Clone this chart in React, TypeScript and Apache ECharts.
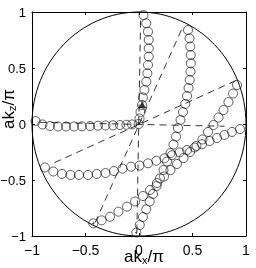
import React, { useEffect, useRef } from 'react';
import * as echarts from 'echarts';

// Axis ticks
const xTicks = [-1, -0.5, 0, 0.5, 1];
const yTicks = [-1, -0.5, 0, 0.5, 1];

// Chains of computed points (open circles)
const chainA = [
  [-0.967, 0.027], [-0.902, -0.004], [-0.832, -0.018], [-0.757, -0.022], [-0.682, -0.022],
  [-0.607, -0.022], [-0.533, -0.021], [-0.458, -0.018], [-0.383, -0.015], [-0.313, -0.013],
  [-0.243, -0.012], [-0.178, -0.009], [-0.117, -0.007], [-0.065, -0.004], [-0.003, 0.0],
];
const chainB = [
  [0.005, 0.049], [0.014, 0.107], [0.028, 0.17], [0.037, 0.237], [0.051, 0.304],
  [0.068, 0.378], [0.078, 0.453], [0.084, 0.527], [0.091, 0.601], [0.091, 0.676],
  [0.091, 0.75], [0.084, 0.824], [0.068, 0.899], [0.042, 0.973],
];
const chainC = [
  [0.458, 0.839], [0.472, 0.765], [0.479, 0.691], [0.484, 0.616], [0.484, 0.542],
  [0.481, 0.468], [0.474, 0.393], [0.463, 0.321], [0.449, 0.25], [0.433, 0.179],
  [0.411, 0.107], [0.388, 0.036], [0.364, -0.036], [0.346, -0.112], [0.322, -0.183],
  [0.294, -0.259], [0.262, -0.335], [0.229, -0.411], [0.196, -0.485], [0.164, -0.554],
  [0.131, -0.625], [0.1, -0.692], [0.068, -0.762], [0.037, -0.83], [0.007, -0.902],
  [-0.025, -0.969],
];
const chainD = [
  [-0.879, -0.388], [-0.801, -0.424], [-0.72, -0.446], [-0.64, -0.455], [-0.561, -0.455],
  [-0.477, -0.455], [-0.395, -0.446], [-0.313, -0.438], [-0.234, -0.42], [-0.154, -0.399],
  [-0.075, -0.381], [0.005, -0.371], [0.084, -0.351], [0.162, -0.328], [0.238, -0.306],
  [0.308, -0.279], [0.38, -0.253], [0.449, -0.232], [0.519, -0.21], [0.589, -0.181],
  [0.659, -0.152], [0.729, -0.125], [0.799, -0.098], [0.869, -0.071], [0.944, -0.045],
];
const chainF = [
  [0.916, 0.348], [0.879, 0.272], [0.836, 0.196], [0.79, 0.125], [0.743, 0.058],
  [0.696, -0.009], [0.645, -0.071], [0.593, -0.138], [0.537, -0.196], [0.477, -0.25],
  [0.416, -0.304], [0.355, -0.357], [0.294, -0.411], [0.234, -0.469], [0.168, -0.527],
  [0.103, -0.589], [0.037, -0.643], [-0.037, -0.692], [-0.112, -0.738], [-0.192, -0.783],
  [-0.271, -0.828], [-0.349, -0.86], [-0.427, -0.887],
];

// Small dots and the filled triangle
const dots = [[-0.003, 0.0], [-0.427, -0.887], [-0.025, -0.969]];
const triangle = [[0.03, 0.175]];

// Dashed reference lines (end points)
const line1 = [[-0.93, 0.015], [0.8, -0.02]];
const line2 = [[-0.02, -0.96], [0.015, 0.94]];
const line3 = [[-0.79, -0.345], [0.91, 0.39]];
const line4 = [[-0.41, -0.88], [0.415, 0.88]];

// Unit circle: centre x, centre y, radius
const unitCircle = [[0, 0, 1]];

export default function App() {
  const ref = useRef<HTMLDivElement>(null);
  useEffect(() => {
    const chart = echarts.init(ref.current!, null, { renderer: 'svg' });
    const font = '"Liberation Sans", Arial, Helvetica, sans-serif';
    const fmt = (v: number) => (v < 0 ? '\u2212' + String(-v) : String(v));
    const rich = {
      a: { fontSize: 17, fontFamily: font, color: '#000', lineHeight: 18, verticalAlign: 'middle' },
      s: { fontSize: 11, fontFamily: font, color: '#000', lineHeight: 8, verticalAlign: 'bottom' },
    };
    const baseAxis = {
      type: 'value',
      min: -1,
      max: 1,
      interval: 0.5,
      splitLine: { show: false },
      axisLine: { show: true, onZero: false, lineStyle: { color: '#000', width: 1 } },
      axisTick: { show: true, inside: true, length: 3, lineStyle: { color: '#000', width: 1 } },
    };
    const circleSeries = [chainA, chainB, chainC, chainD, chainF].map((d) => ({
      type: 'scatter',
      data: d,
      symbol: 'circle',
      symbolSize: 9,
      silent: true,
      z: 4,
      itemStyle: { color: 'rgba(0,0,0,0)', borderColor: '#000', borderWidth: 0.8 },
    }));
    const dashSeries = [line1, line2, line3, line4].map((d) => ({
      type: 'line',
      data: d,
      symbol: 'none',
      silent: true,
      z: 3,
      lineStyle: { color: '#000', width: 0.8, type: [7, 5] },
    }));
    chart.setOption({
      animation: false,
      grid: { left: 32, right: 10, top: 12, bottom: 32, containLabel: false, outerBoundsMode: 'none' },
      xAxis: [
        {
          ...baseAxis,
          position: 'bottom',
          axisLabel: {
            formatter: fmt, color: '#000', fontSize: 14, fontFamily: font, margin: 7,
            customValues: xTicks,
          },
          name: '{a|ak}{s|x}{a|/π}',
          nameLocation: 'middle',
          nameGap: 11,
          nameMoveOverlap: false,
          nameTextStyle: { rich, padding: [0, 0, 0, 10] },
        },
        { ...baseAxis, position: 'top', axisLabel: { show: false } },
      ],
      yAxis: [
        {
          ...baseAxis,
          position: 'left',
          axisLabel: {
            formatter: fmt, color: '#000', fontSize: 13, fontFamily: font, margin: 6,
            customValues: yTicks,
          },
          name: '{a|ak}{s|z}{a|/π}',
          nameLocation: 'middle',
          nameRotate: 90,
          nameGap: 15,
          nameMoveOverlap: false,
          nameTextStyle: { rich, padding: [0, 0, 0, 30] },
        },
        { ...baseAxis, position: 'right', axisLabel: { show: false } },
      ],
      series: [
        {
          type: 'custom',
          data: unitCircle,
          silent: true,
          z: 2,
          renderItem: (params: any, api: any) => {
            const c = api.coord([api.value(0), api.value(1)]);
            const px = api.coord([api.value(0) + api.value(2), api.value(1)]);
            const py = api.coord([api.value(0), api.value(1) + api.value(2)]);
            return {
              type: 'ellipse',
              shape: { cx: c[0], cy: c[1], rx: Math.abs(px[0] - c[0]), ry: Math.abs(c[1] - py[1]) },
              style: { fill: 'none', stroke: '#000', lineWidth: 1 },
            };
          },
        },
        ...dashSeries,
        ...circleSeries,
        {
          type: 'scatter', data: dots, symbol: 'circle', symbolSize: 2, silent: true, z: 5,
          itemStyle: { color: '#000' },
        },
        {
          type: 'scatter', data: triangle, symbol: 'triangle', symbolSize: 7, silent: true, z: 5,
          itemStyle: { color: '#000' },
        },
      ],
    });
    return () => chart.dispose();
  }, []);
  return <div ref={ref} style={{ position: 'fixed', left: 0, top: 0, width: 256, height: 268 }} />;
}
